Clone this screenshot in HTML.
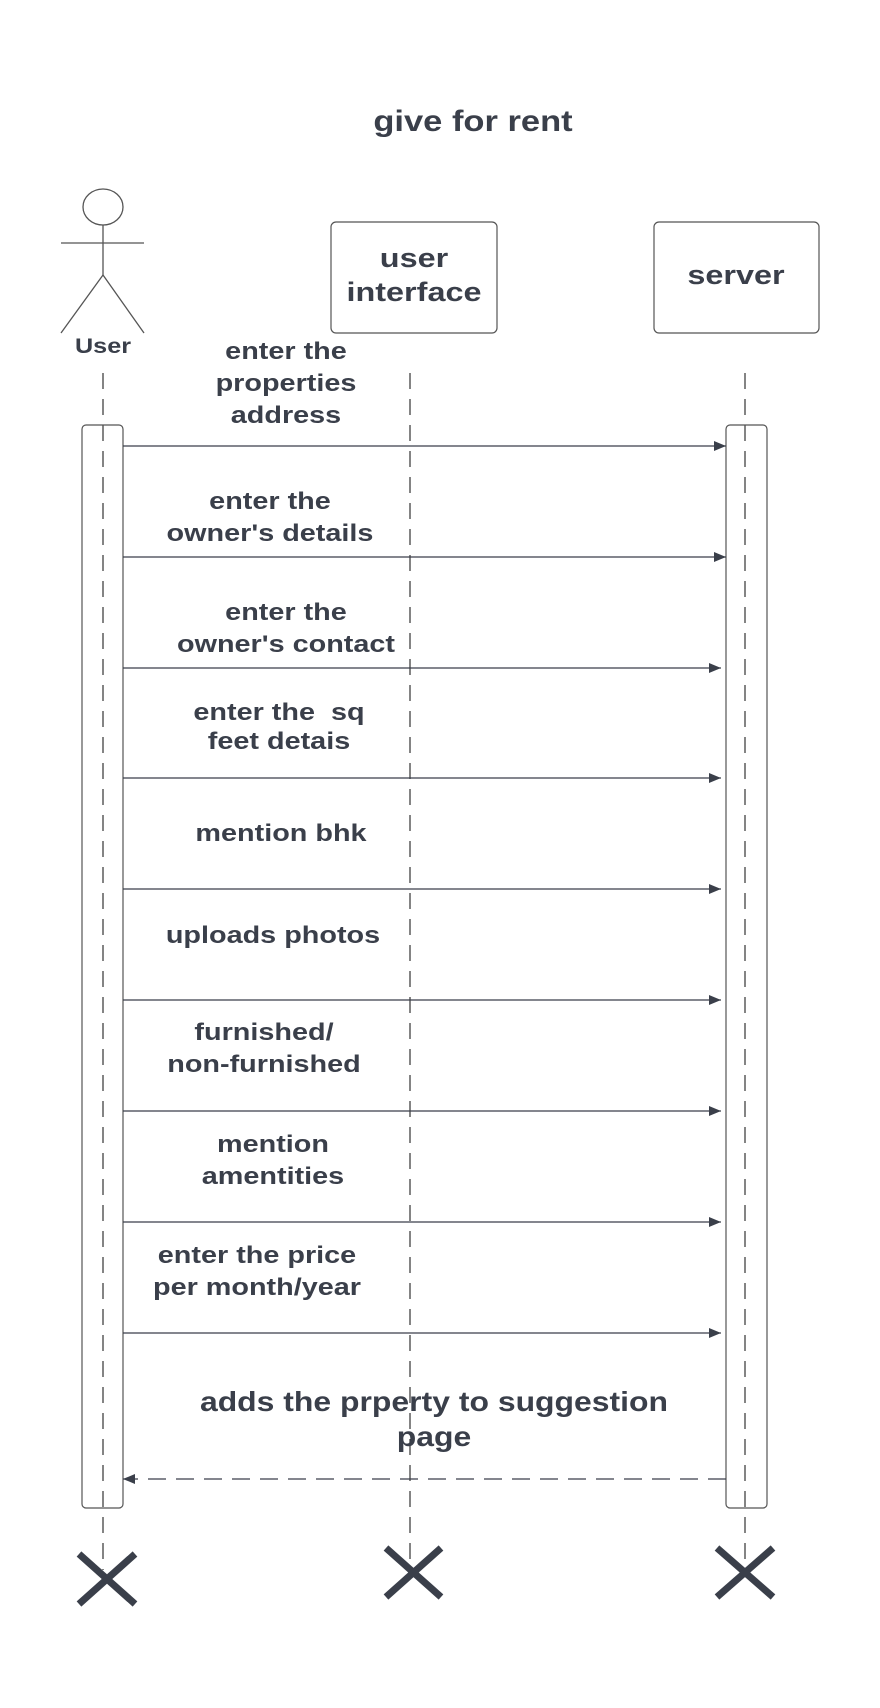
<!DOCTYPE html>
<html><head><meta charset="utf-8"><style>
html,body{margin:0;padding:0;background:#fff;}
svg{display:block;}
text{font-family:"Liberation Sans",sans-serif;font-weight:bold;fill:#3a3f4a;text-anchor:middle;}
</style></head><body>
<svg width="880" height="1708" viewBox="0 0 880 1708" xmlns="http://www.w3.org/2000/svg">
<defs>
<marker id="ah" markerWidth="12" markerHeight="10" refX="12" refY="5" orient="auto" markerUnits="userSpaceOnUse">
<path d="M0,0 L12,5 L0,10 Z" fill="#3a3f4a"/></marker>
</defs>
<text x="473" y="131" font-size="30" transform="matrix(1.15,0,0,1,-70.95,0)">give for rent</text>
<!-- actor -->
<g stroke="#555" stroke-width="1.3" fill="none">
<ellipse cx="103" cy="207" rx="20" ry="18"/>
<line x1="103" y1="225" x2="103" y2="275"/>
<line x1="61" y1="243" x2="144" y2="243"/>
<line x1="103" y1="275" x2="61" y2="333"/>
<line x1="103" y1="275" x2="144" y2="333"/>
</g>
<text x="103" y="353" font-size="21" transform="matrix(1.2,0,0,1,-20.6,0)">User</text>
<!-- boxes -->
<rect x="331" y="222" width="166" height="111" rx="5" fill="#fff" stroke="#555" stroke-width="1.2"/>
<text x="414" y="267" font-size="27" transform="matrix(1.2,0,0,1,-82.8,0)">user</text>
<text x="414" y="301" font-size="27" transform="matrix(1.2,0,0,1,-82.8,0)">interface</text>
<rect x="654" y="222" width="165" height="111" rx="5" fill="#fff" stroke="#555" stroke-width="1.2"/>
<text x="736" y="284" font-size="27" transform="matrix(1.2,0,0,1,-147.2,0)">server</text>
<!-- lifelines -->
<g stroke="#333" stroke-width="1.2" stroke-dasharray="16,10">
<line x1="103" y1="373" x2="103" y2="1570"/>
<line x1="410" y1="373" x2="410" y2="1560"/>
<line x1="745" y1="373" x2="745" y2="1560"/>
</g>
<!-- activations -->
<rect x="82" y="425" width="41" height="1083" rx="4" fill="none" stroke="#555" stroke-width="1.2"/>
<rect x="726" y="425" width="41" height="1083" rx="4" fill="none" stroke="#555" stroke-width="1.2"/>
<!-- arrows -->
<g stroke="#3a3f4a" stroke-width="1.3" marker-end="url(#ah)">
<line x1="123" y1="446" x2="726" y2="446"/>
<line x1="123" y1="557" x2="726" y2="557"/>
<line x1="123" y1="668" x2="721" y2="668"/>
<line x1="123" y1="778" x2="721" y2="778"/>
<line x1="123" y1="889" x2="721" y2="889"/>
<line x1="123" y1="1000" x2="721" y2="1000"/>
<line x1="123" y1="1111" x2="721" y2="1111"/>
<line x1="123" y1="1222" x2="721" y2="1222"/>
<line x1="123" y1="1333" x2="721" y2="1333"/>
<line x1="726" y1="1479" x2="123" y2="1479" stroke-dasharray="18,10"/>
</g>
<!-- labels -->
<g font-size="24">
<text x="286" y="359" transform="matrix(1.2,0,0,1,-57.2,0)">enter the</text>
<text x="286" y="391" transform="matrix(1.2,0,0,1,-57.2,0)">properties</text>
<text x="286" y="423" transform="matrix(1.2,0,0,1,-57.2,0)">address</text>
<text x="270" y="509" transform="matrix(1.2,0,0,1,-54,0)">enter the</text>
<text x="270" y="541" transform="matrix(1.2,0,0,1,-54,0)">owner's details</text>
<text x="286" y="620" transform="matrix(1.2,0,0,1,-57.2,0)">enter the</text>
<text x="286" y="652" transform="matrix(1.2,0,0,1,-57.2,0)">owner's contact</text>
<text x="279" y="720" xml:space="preserve" transform="matrix(1.2,0,0,1,-55.8,0)">enter the  sq</text>
<text x="279" y="749" transform="matrix(1.2,0,0,1,-55.8,0)">feet detais</text>
<text x="281" y="841" transform="matrix(1.2,0,0,1,-56.2,0)">mention bhk</text>
<text x="273" y="943" transform="matrix(1.2,0,0,1,-54.6,0)">uploads photos</text>
<text x="264" y="1040" transform="matrix(1.2,0,0,1,-52.8,0)">furnished/</text>
<text x="264" y="1072" transform="matrix(1.2,0,0,1,-52.8,0)">non-furnished</text>
<text x="273" y="1152" transform="matrix(1.2,0,0,1,-54.6,0)">mention</text>
<text x="273" y="1184" transform="matrix(1.2,0,0,1,-54.6,0)">amentities</text>
<text x="257" y="1263" transform="matrix(1.2,0,0,1,-51.4,0)">enter the price</text>
<text x="257" y="1295" transform="matrix(1.2,0,0,1,-51.4,0)">per month/year</text>
</g>
<g font-size="28">
<text x="434" y="1411" transform="matrix(1.14,0,0,1,-60.76,0)">adds the prperty to suggestion</text>
<text x="434" y="1446" transform="matrix(1.14,0,0,1,-60.76,0)">page</text>
</g>
<!-- destroy X -->
<g stroke="#3a3f4a" stroke-width="7">
<line x1="79" y1="1554" x2="135" y2="1604"/>
<line x1="135" y1="1554" x2="79" y2="1604"/>
<line x1="386" y1="1548" x2="441" y2="1597"/>
<line x1="441" y1="1548" x2="386" y2="1597"/>
<line x1="717" y1="1548" x2="773" y2="1597"/>
<line x1="773" y1="1548" x2="717" y2="1597"/>
</g>
</svg>
</body></html>
